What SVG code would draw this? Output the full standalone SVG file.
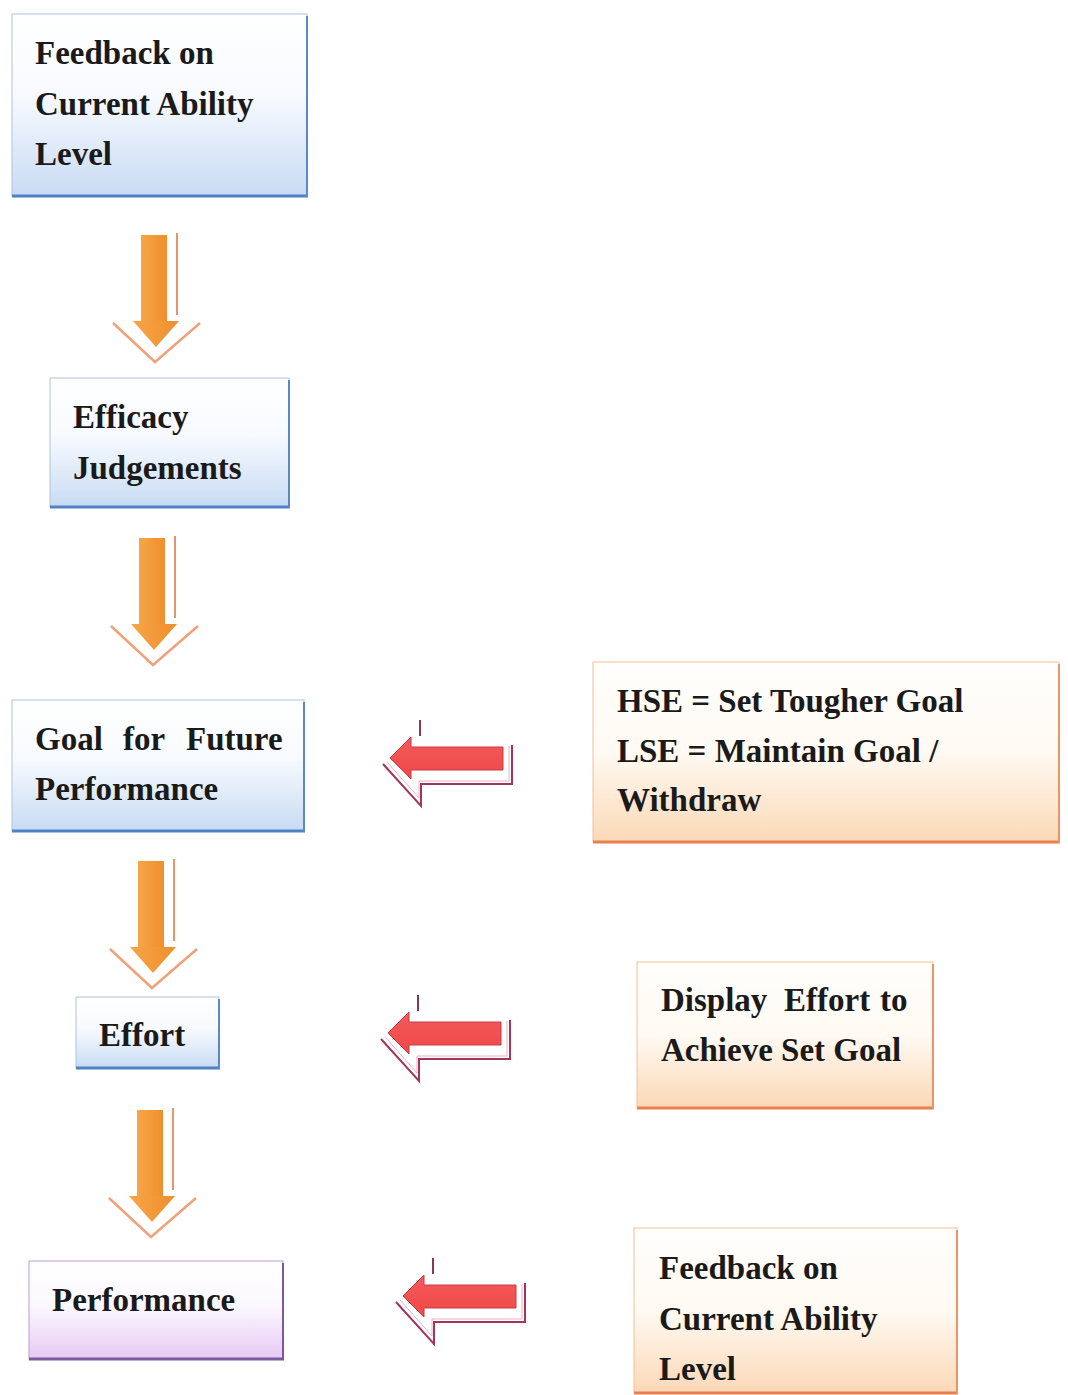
<svg xmlns="http://www.w3.org/2000/svg" width="1068" height="1395" viewBox="0 0 1068 1395">
<defs>
<linearGradient id="gBlue" x1="0" y1="0" x2="0" y2="1">
<stop offset="0" stop-color="#ffffff"/><stop offset="0.45" stop-color="#f7faff"/><stop offset="1" stop-color="#c8dbf3"/>
</linearGradient>
<linearGradient id="gOrange" x1="0" y1="0" x2="0" y2="1">
<stop offset="0" stop-color="#fffefc"/><stop offset="0.5" stop-color="#fffaf3"/><stop offset="1" stop-color="#fbd8b6"/>
</linearGradient>
<linearGradient id="gPurple" x1="0" y1="0" x2="0" y2="1">
<stop offset="0" stop-color="#ffffff"/><stop offset="0.45" stop-color="#fcf8ff"/><stop offset="1" stop-color="#e7c9f3"/>
</linearGradient>
<linearGradient id="gDown" x1="0" y1="0" x2="1" y2="0">
<stop offset="0" stop-color="#f7a548"/><stop offset="1" stop-color="#ef8f2c"/>
</linearGradient>
<linearGradient id="gLeft" x1="0" y1="0" x2="0" y2="1">
<stop offset="0" stop-color="#f35a5a"/><stop offset="1" stop-color="#f04848"/>
</linearGradient>
<g id="downArrow">
<rect x="0" y="0" width="26" height="87" fill="url(#gDown)"/>
<polygon points="-8,86 38,86 15,112" fill="url(#gDown)"/>
<line x1="36" y1="-2" x2="36" y2="80" stroke="#e9946a" stroke-width="2"/>
<polyline points="-28,88 14,127 59,88" fill="none" stroke="#f0a27a" stroke-width="2.5"/>
</g>
<g id="leftArrow">
<polygon points="0,0 21,-21 21,-11 113,-11 113,12 21,12 21,21" fill="url(#gLeft)" stroke="#c8384a" stroke-width="1"/>
<polyline points="-7,6 31,48 31,26 122,26 122,-13" fill="none" stroke="#a3355c" stroke-width="2"/>
<polyline points="-3,4 29,40 29,23 119,23 119,-12" fill="none" stroke="#f0b0c0" stroke-width="1"/>
<line x1="30" y1="-38" x2="30" y2="-22" stroke="#8a3a50" stroke-width="2"/>
</g>
</defs>
<style>
.t{font-family:"Liberation Serif","Times New Roman",serif;font-weight:bold;font-size:33px;fill:#1a1a1a}
.edgeB{stroke:#b0c4de;stroke-width:1}
.edgeO{stroke:#f0c09a;stroke-width:1}
.edgeP{stroke:#b8a0cc;stroke-width:1}
</style>
<rect width="1068" height="1395" fill="#ffffff"/>

<g id="connectors">
<use href="#downArrow" transform="translate(141,235)"/>
<use href="#downArrow" transform="translate(139,538)"/>
<use href="#downArrow" transform="translate(138,861)"/>
<use href="#downArrow" transform="translate(137,1110)"/>
<use href="#leftArrow" transform="translate(390,758)"/>
<use href="#leftArrow" transform="translate(388,1033)"/>
<use href="#leftArrow" transform="translate(403,1296)"/>
</g>

<g id="node-feedback-top">
<rect x="12" y="14" width="295" height="182" fill="url(#gBlue)" class="edgeB"/>
<line x1="12" y1="196" x2="308" y2="196" stroke="#4f81c4" stroke-width="3"/>
<line x1="307" y1="16" x2="307" y2="197" stroke="#5a88c8" stroke-width="2"/>
<text class="t" x="35" y="64">Feedback on</text>
<text class="t" x="35" y="115">Current Ability</text>
<text class="t" x="35" y="165">Level</text>
</g>

<g id="node-efficacy">
<rect x="50" y="378" width="239" height="129" fill="url(#gBlue)" class="edgeB"/>
<line x1="50" y1="507" x2="290" y2="507" stroke="#4f81c4" stroke-width="3"/>
<line x1="289" y1="380" x2="289" y2="508" stroke="#5a88c8" stroke-width="2"/>
<text class="t" x="73" y="428">Efficacy</text>
<text class="t" x="73" y="479">Judgements</text>
</g>

<g id="node-goal">
<rect x="12" y="700" width="292" height="131" fill="url(#gBlue)" class="edgeB"/>
<line x1="12" y1="831" x2="305" y2="831" stroke="#4f81c4" stroke-width="3"/>
<line x1="304" y1="702" x2="304" y2="832" stroke="#5a88c8" stroke-width="2"/>
<text class="t" y="750"><tspan x="35">Goal</tspan><tspan x="123">for</tspan><tspan x="186">Future</tspan></text>
<text class="t" x="35" y="800">Performance</text>
</g>

<g id="node-effort">
<rect x="76" y="997" width="143" height="71" fill="url(#gBlue)" class="edgeB"/>
<line x1="76" y1="1068" x2="220" y2="1068" stroke="#4f81c4" stroke-width="3"/>
<line x1="219" y1="999" x2="219" y2="1069" stroke="#5a88c8" stroke-width="2"/>
<text class="t" x="99" y="1046">Effort</text>
</g>

<g id="node-performance">
<rect x="29" y="1261" width="254" height="98" fill="url(#gPurple)" class="edgeP"/>
<line x1="29" y1="1359" x2="284" y2="1359" stroke="#7a5a9a" stroke-width="3"/>
<line x1="283" y1="1263" x2="283" y2="1360" stroke="#7a5a9a" stroke-width="2"/>
<text class="t" x="52" y="1311">Performance</text>
</g>

<g id="node-hse">
<rect x="593" y="662" width="466" height="180" fill="url(#gOrange)" class="edgeO"/>
<line x1="593" y1="842" x2="1060" y2="842" stroke="#e8804e" stroke-width="3"/>
<line x1="1059" y1="664" x2="1059" y2="843" stroke="#eb9466" stroke-width="2"/>
<text class="t" x="617" y="712">HSE = Set Tougher Goal</text>
<text class="t" x="617" y="762">LSE = Maintain Goal /</text>
<text class="t" x="617" y="811">Withdraw</text>
</g>

<g id="node-display">
<rect x="637" y="962" width="296" height="146" fill="url(#gOrange)" class="edgeO"/>
<line x1="637" y1="1108" x2="934" y2="1108" stroke="#e8804e" stroke-width="3"/>
<line x1="933" y1="964" x2="933" y2="1109" stroke="#eb9466" stroke-width="2"/>
<text class="t" y="1011"><tspan x="661">Display</tspan><tspan x="784">Effort</tspan><tspan x="880">to</tspan></text>
<text class="t" x="661" y="1061">Achieve Set Goal</text>
</g>

<g id="node-feedback-right">
<rect x="634" y="1228" width="323" height="165" fill="url(#gOrange)" class="edgeO"/>
<line x1="634" y1="1393" x2="958" y2="1393" stroke="#e8804e" stroke-width="3"/>
<line x1="957" y1="1230" x2="957" y2="1394" stroke="#eb9466" stroke-width="2"/>
<text class="t" x="659" y="1279">Feedback on</text>
<text class="t" x="659" y="1330">Current Ability</text>
<text class="t" x="659" y="1380">Level</text>
</g>
</svg>
